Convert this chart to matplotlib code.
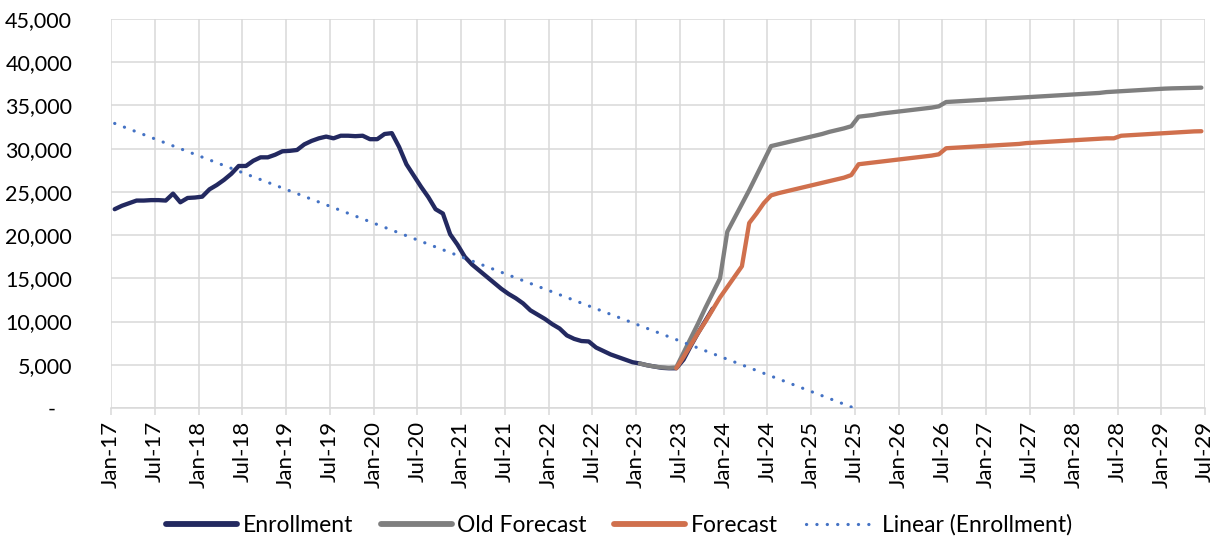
import numpy as np
import pandas as pd
import matplotlib
matplotlib.use("Agg")
import matplotlib.pyplot as plt
from matplotlib.ticker import FuncFormatter

# Monthly enrollment, Jan-17 onward (month index 0 = Jan-17)
enroll_start = 0
enrollment = [
    23000, 23400, 23700, 24000, 24000, 24050, 24050, 24000, 24800, 23800,
    24300, 24350, 24450, 25300, 25800, 26400, 27100, 28000, 28000, 28600,
    29000, 29000, 29300, 29700, 29750, 29850, 30500, 30900, 31200, 31400,
    31200, 31500, 31500, 31450, 31500, 31100, 31100, 31700, 31800, 30200,
    28200, 26900, 25600, 24400, 23000, 22500, 20100, 18900, 17500, 16600,
    15900, 15200, 14500, 13800, 13200, 12700, 12100, 11300, 10800, 10300,
    9700, 9200, 8400, 8000, 7750, 7700, 7000, 6600, 6200, 5900,
    5600, 5300, 5150, 4950, 4800, 4650, 4600, 4600, 5600, 7200,
    8700, 10100, 11500,
]

# Previous forecast, Jan-23 onward
old_start = 72
old_forecast = [
    5150, 4950, 4800, 4700, 4650, 4700, 6400, 8100, 9800, 11600,
    13300, 15000, 20400, 22000, 23600, 25200, 26900, 28600, 30300, 30500,
    30700, 30900, 31100, 31300, 31500, 31700, 31950, 32150, 32350, 32600,
    33700, 33800, 33900, 34050, 34150, 34250, 34350, 34450, 34550, 34650,
    34750, 34900, 35400, 35450, 35500, 35550, 35600, 35650, 35700, 35750,
    35800, 35850, 35900, 35950, 36000, 36050, 36100, 36150, 36200, 36250,
    36300, 36350, 36400, 36450, 36550, 36600, 36650, 36700, 36750, 36800,
    36850, 36900, 36950, 36980, 37000, 37020, 37040, 37060,
]

# Current forecast, Jun-23 onward
fc_start = 77
forecast = [
    4600, 5900, 7300, 8700, 10000, 11400, 12800, 14000, 15200, 16400,
    21400, 22500, 23700, 24600, 24850, 25050, 25250, 25450, 25650, 25850,
    26050, 26250, 26450, 26650, 26950, 28200, 28300, 28400, 28500, 28600,
    28700, 28800, 28900, 29000, 29100, 29200, 29350, 30050, 30100, 30150,
    30200, 30250, 30300, 30350, 30400, 30450, 30500, 30550, 30650, 30700,
    30750, 30800, 30850, 30900, 30950, 31000, 31050, 31100, 31150, 31200,
    31200, 31500, 31550, 31600, 31650, 31700, 31750, 31800, 31850, 31900,
    31950, 32000, 32020,
]

tick_months = list(range(0, 151, 6))
tick_labels = pd.date_range("2017-01-01", periods=151, freq="MS")[tick_months].strftime("%b-%y").tolist()

navy = "#232960"
grey = "#7F7F7F"
orange = "#D0704D"
trend_blue = "#4472C4"
grid_c = "#D9D9D9"

plt.rcParams["font.family"] = ["Lato", "DejaVu Sans"]

fig = plt.figure(figsize=(12.31, 5.39), dpi=100)
ax = fig.add_axes([0.0902, 0.243, 0.8887, 0.7217])

def positions(start, values):
    # points sit in the middle of each month interval
    return np.arange(start, start + len(values)) + 0.5

x_en = positions(enroll_start, enrollment)
x_old = positions(old_start, old_forecast)
x_fc = positions(fc_start, forecast)

lw = 3.1
ax.plot(x_en, enrollment, color=navy, lw=lw, solid_capstyle="round",
        solid_joinstyle="round", label="Enrollment", zorder=3)
ax.plot(x_old, old_forecast, color=grey, lw=lw, solid_capstyle="round",
        solid_joinstyle="round", label="Old Forecast", zorder=4)
ax.plot(x_fc, forecast, color=orange, lw=lw, solid_capstyle="round",
        solid_joinstyle="round", label="Forecast", zorder=5)

# least-squares trend of enrollment, carried forward
coef = np.polyfit(x_en, enrollment, 1)
x_tr = np.linspace(x_en[0], 112, 400)
ax.plot(x_tr, np.polyval(coef, x_tr), color=trend_blue, lw=2.3,
        linestyle=(0, (0.05, 3.2)), dash_capstyle="round",
        label="Linear (Enrollment)", zorder=6)

ax.set_xlim(0, 150)
ax.set_ylim(0, 45000)
ax.set_yticks(np.arange(0, 45001, 5000))
ax.yaxis.set_major_formatter(FuncFormatter(lambda v, p: "-   " if v == 0 else f"{v:,.0f}"))
ax.set_xticks(tick_months)
ax.set_xticklabels(tick_labels, rotation=90)

ax.grid(True, color=grid_c, lw=1.1)
ax.set_axisbelow(True)
for s in ["top", "right", "left"]:
    ax.spines[s].set_visible(False)
ax.spines["bottom"].set_color(grid_c)
ax.spines["bottom"].set_linewidth(1.1)
ax.tick_params(axis="y", length=0, pad=28, labelsize=15.5, labelcolor="#000000")
ax.tick_params(axis="x", length=5, width=1.1, color=grid_c, pad=4,
               labelsize=16, labelcolor="#000000")

leg = fig.legend(loc="center", bbox_to_anchor=(0.503, 0.026), ncol=4, frameon=False,
                 fontsize=16.5, handlelength=3.1, handletextpad=0.25,
                 columnspacing=1.2)
for h in leg.get_lines()[:3]:
    h.set_linewidth(4.2)

fig.savefig("out.png", dpi=100)
